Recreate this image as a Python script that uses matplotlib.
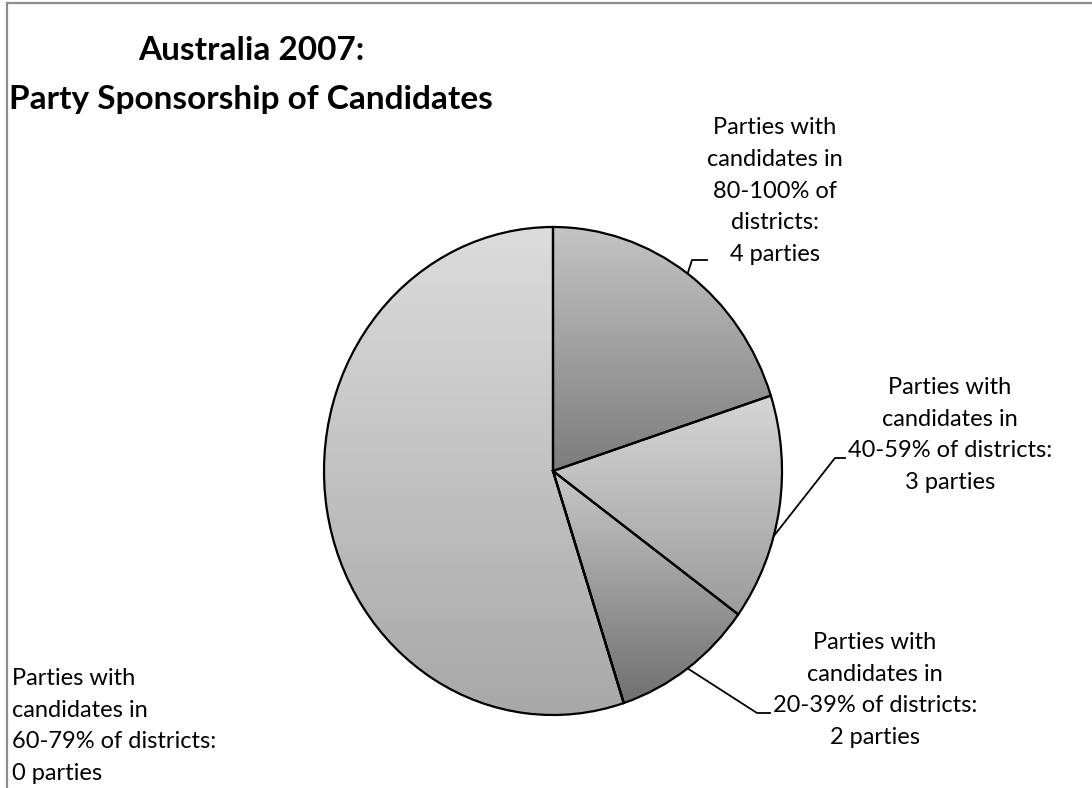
import numpy as np
import matplotlib.pyplot as plt
from matplotlib.colors import LinearSegmentedColormap

plt.rcParams['font.family'] = ['Lato', 'DejaVu Sans']

# slices go clockwise from 12 o'clock
bands = ['80-100%', '40-59%', '20-39%', '60-79%', '1-19%']
counts = [4, 3, 2, 0, 11]
title = 'Australia 2007:\nParty Sponsorship of Candidates'

# top / bottom grey of each slice's fill
shade_top = ['#c4c4c4', '#d6d6d6', '#c8c8c8', '#cccccc', '#dcdcdc']
shade_bottom = ['#7c7c7c', '#9c9c9c', '#707070', '#888888', '#a8a8a8']


def label_text(band, n):
    return 'Parties with\ncandidates in\n{0} of districts:\n{1} parties'.format(band, n)


W, H = 1092, 788
fig = plt.figure(figsize=(W / 100, H / 100), dpi=100)
bg = fig.add_axes([0, 0, 1, 1])
bg.set_xlim(0, W)
bg.set_ylim(H, 0)
bg.axis('off')

# frame
bg.plot([7, W], [3, 3], color='#8c8c8c', lw=1.6)
bg.plot([7, 7], [3, H], color='#8c8c8c', lw=1.6)

bg.text(251, 75, title, ha='center', va='center', fontsize=24,
        fontweight='bold', linespacing=1.85)

ax = fig.add_axes([324 / W, (H - 715) / H, 458 / W, 488 / H])
wedges, _ = ax.pie(counts, startangle=90, counterclock=False,
                   wedgeprops=dict(edgecolor='black', linewidth=1.6,
                                   facecolor='none', zorder=3))
grad = np.linspace(0, 1, 256).reshape(-1, 1)
for w, n, c0, c1 in zip(wedges, counts, shade_bottom, shade_top):
    if n == 0:
        continue
    bb = w.get_path().get_extents()
    cmap = LinearSegmentedColormap.from_list('g', [c0, c1])
    im = ax.imshow(grad, extent=[bb.x0, bb.x1, bb.y0, bb.y1], origin='lower',
                   cmap=cmap, aspect='auto', zorder=1)
    im.set_clip_path(w)
ax.set_xlim(-1, 1)
ax.set_ylim(-1, 1)
ax.set_aspect('auto')
ax.axis('off')

# label positions (pixels) and leader line ends
label_pos = {'80-100%': (775, 191), '40-59%': (950, 435),
             '20-39%': (875, 690), '1-19%': (430, 476)}
leaders = {'80-100%': [(692, 260), (707, 260)],
           '40-59%': [(835, 458), (845, 458)],
           '20-39%': [(757, 713), (770, 713)]}
# where each leader leaves the rim, as a fraction along the slice
leader_frac = {'80-100%': 0.5, '40-59%': 0.62, '20-39%': 0.5}

to_bg = bg.transData.inverted()
for w, band, n in zip(wedges, bands, counts):
    s = label_text(band, n)
    if band == '80-100%':
        s = 'Parties with\ncandidates in\n80-100% of\ndistricts:\n4 parties'
    if band == '60-79%':
        bg.text(12, 726, s, ha='left', va='center', fontsize=17,
                linespacing=1.62)
        continue
    x, y = label_pos[band]
    bg.text(x, y, s, ha='center', va='center', multialignment='center',
            fontsize=17, linespacing=1.62)
    if band in leaders:
        f = leader_frac[band]
        ang = np.deg2rad(w.theta2 - f * (w.theta2 - w.theta1))
        sx, sy = to_bg.transform(ax.transData.transform((np.cos(ang), np.sin(ang))))
        pts = [(sx, sy)] + leaders[band]
        bg.plot([p[0] for p in pts], [p[1] for p in pts], color='black', lw=1.3)

fig.savefig('out.png', dpi=100)
